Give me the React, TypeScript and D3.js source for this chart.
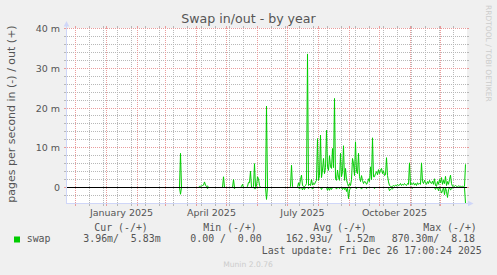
import React from "react";
import * as d3 from "d3";

// ---------- text ----------
const chartTitle = "Swap in/out - by year";
const yAxisTitle = "pages per second in (-) / out (+)";
const yMajorTicks = [0, 10, 20, 30, 40];
const yTickLabels = ["0", "10 m", "20 m", "30 m", "40 m"];
const xLabelMonths = ["2025-01-01", "2025-04-01", "2025-07-01", "2025-10-01"];
const xLabelTexts = ["January 2025", "April 2025", "July 2025", "October 2025"];
const legendHeaders = ["Cur (-/+)", "Min (-/+)", "Avg (-/+)", "Max (-/+)"];
const legendValues = ["3.96m/  5.83m", "0.00 /  0.00", "162.93u/  1.52m", "870.30m/  8.18"];
const seriesName = "swap";
const lastUpdate = "Last update: Fri Dec 26 17:00:24 2025";
const watermark = "RRDTOOL / TOBI OETIKER";
const version = "Munin 2.0.76";

// ---------- data: daily swap-out (milli pages/s), one array per month ----------
const monthStarts = [
  "2025-03-01", "2025-04-01", "2025-05-01", "2025-06-01", "2025-07-01",
  "2025-08-01", "2025-09-01", "2025-10-01", "2025-11-01", "2025-12-01",
];
const swapOutMar = [0, 0, 0, 0, 0, 0, 0, 0, 0, 0, 0, 0, 0, 0, 0, 8.6, 0, 0, 0, 0, 0, 0, 0, 0, 0, 0, 0, 0, 0, 0, 0];
const swapOutApr = [0, 0, 0, 0.3, 0.3, 0.4, 0.5, 0.6, 1.4, 0.6, 0.2, 0.4, 0, 0, 0, 0, 0, 0, 0, 0, 0, 0, 0, 0, 0, 0, 0, 2.7, 0, 0];
const swapOutMay = [0, 0, 0, 0, 0, 0, 0, 2.0, 0, 0, 0, 0, 0, 0, 0, 0.3, 0.8, 0, 0, 0, 0, 0.3, 1.3, 1.2, 4.1, 0.1, 0, 0.3, 6.0, 0.2, 0.3];
const swapOutJun = [2.7, 2.2, 0.5, 0, 0, 0, 0, 0, 0, 20.5, 0, 0, 0, 0, 0, 0, 0, 0, 0, 0, 0, 0, 0, 0, 0, 0, 0, 0, 0, 0];
const swapOutJul = [0, 0, 0, 0.3, 5.6, 0.3, 0, 0, 0, 0, 0, 1.2, 0.4, 2.0, 3.1, 0.5, 0.3, 0.2, 0.5, 1.0, 33.6, 0.5, 0.8, 0.5, 2.0, 0.6, 1.0, 0.8, 1.4, 1.8, 12.3];
const swapOutAug = [1.8, 3.0, 13.2, 2.5, 4.4, 7.3, 3.5, 5.0, 14.4, 5.2, 4.3, 8.0, 5.2, 4.8, 9.8, 5.0, 22.4, 2.2, 1.8, 4.4, 2.5, 1.8, 8.6, 2.7, 4.0, 10.5, 1.8, 4.8, 2.0, 1.0, 0.3];
const swapOutSep = [1.0, 0.5, 2.0, 7.3, 6.0, 3.0, 11.5, 4.0, 3.5, 8.6, 2.7, 1.5, 3.0, 1.8, 1.0, 1.5, 1.4, 0.8, 1.2, 2.2, 1.5, 5.2, 2.0, 12.5, 2.7, 2.7, 3.5, 4.0, 3.2, 4.5];
const swapOutOct = [3.5, 4.3, 4.8, 3.5, 4.2, 3.0, 3.2, 7.5, 3.0, 1.4, 0.5, 0.3, 0.2, 0.3, 0.5, 0.3, 0.6, 0.4, 0.8, 0.5, 0.6, 1.0, 0.5, 0.8, 0.6, 1.0, 0.7, 0.5, 1.0, 0.8, 6.2];
const swapOutNov = [0.6, 1.0, 0.8, 1.2, 0.6, 1.0, 0.5, 1.2, 0.8, 1.0, 0.8, 6.2, 1.5, 1.0, 1.8, 1.2, 0.8, 1.5, 1.0, 1.8, 1.2, 1.0, 1.6, 0.8, 2.2, 0.5, 0.3, 1.5, 0.8, 2.0];
const swapOutDec = [1.2, 2.5, 0.8, 1.8, 1.0, 2.8, 0.5, 1.5, 0.8, 2.0, 3.1, 1.0, 0.3, 0.4, 0.3, 0.5, 0.3, 0.2, 0.4, 0.3, 0.3, 0.2, 0.3, 0.2, 0.3, 5.83];

// ---------- data: swap-in (milli pages/s), days with non-zero values ----------
const swapInDays = [
  "2025-03-16", "2025-04-12", "2025-05-09", "2025-05-29", "2025-05-30", "2025-06-10",
  "2025-07-13", "2025-07-16", "2025-07-18", "2025-07-22", "2025-07-26",
  "2025-08-04", "2025-08-10", "2025-08-12", "2025-08-14", "2025-08-19", "2025-08-22",
  "2025-08-25", "2025-08-27", "2025-08-29", "2025-08-31",
  "2025-09-01", "2025-09-02", "2025-09-08", "2025-09-13", "2025-09-18", "2025-09-26",
  "2025-10-11", "2025-10-12", "2025-10-13", "2025-10-14",
  "2025-11-03", "2025-11-26", "2025-11-29",
  "2025-12-01", "2025-12-02", "2025-12-03", "2025-12-05", "2025-12-07", "2025-12-08",
  "2025-12-09", "2025-12-11", "2025-12-12", "2025-12-26",
];
const swapInValues = [
  1.7, 0.3, 0.3, 0.3, 0.3, 3.0,
  0.4, 0.6, 0.5, 0.3, 0.4,
  0.5, 0.7, 0.7, 0.5, 0.4, 0.3,
  0.5, 0.5, 1.0, 2.8,
  0.6, 0.3, 0.3, 0.4, 0.3, 0.3,
  0.8, 0.5, 0.3, 0.4,
  0.2, 0.5, 0.8,
  0.5, 1.4, 0.8, 1.8, 1.0, 2.5,
  0.5, 0.6, 0.4, 3.96,
];

const swapOutByMonth = [
  swapOutMar, swapOutApr, swapOutMay, swapOutJun, swapOutJul,
  swapOutAug, swapOutSep, swapOutOct, swapOutNov, swapOutDec,
];

const DAY = 86400000;
const parse = (s: string) => new Date(s + "T00:00:00Z");

type Pt = { date: Date; v: number };

const outSeries: Pt[] = swapOutByMonth.flatMap((vals, m) =>
  vals.map((v, i) => ({ date: new Date(parse(monthStarts[m]).getTime() + i * DAY), v }))
);
const inMap = new Map<string, number>(swapInDays.map((d, i) => [d, swapInValues[i]]));
const inSeries: Pt[] = outSeries.map((p) => ({
  date: p.date,
  v: -(inMap.get(p.date.toISOString().slice(0, 10)) ?? 0),
}));

const FONT = "DejaVu Sans, Liberation Sans, sans-serif";
const MONO = "DejaVu Sans Mono, Liberation Mono, monospace";
const TEXT = "#555555";
const GREEN = "#00CC00";
const AXIS = "#CFD6F8";
const MINOR = "#b8b8b8";
const MAJOR = "#e99c9c";

export default function App() {
  const W = 497;
  const H = 275;
  const X0 = 67;
  const X1 = 467;
  const start = new Date(Date.UTC(2024, 10, 22, 12));
  const end = new Date(start.getTime() + 400 * DAY);
  const x = d3.scaleUtc().domain([start, end]).range([X0, X1]);
  const y = d3.scaleLinear().domain([-4, 40]).range([203.4, 28.5]);
  const snap = (v: number) => Math.floor(v) + 0.5;
  const yTop = snap(y(40));
  const yBot = snap(y(-4));
  const xAxis = X0 - 0.5;
  const vTop = yTop - 0.5; // integer pixel edge so dots are crisp
  const vBot = yBot + 0.5;

  const minorY = d3.range(-2, 40, 2).filter((v) => v % 10 !== 0);
  const months = d3.utcMonth.range(start, end);
  const refSunday = parse("2025-11-30").getTime();
  const sundays = d3.utcSunday
    .range(start, end)
    .filter((d) => Math.round((refSunday - d.getTime()) / DAY) % 14 === 0);

  const line = d3
    .line<Pt>()
    .x((d) => x(d.date))
    .y((d) => y(d.v));

  return (
    <svg
      width={W}
      height={H}
      viewBox={`0 0 ${W} ${H}`}
      style={{ position: "absolute", left: 0, top: 0, display: "block" }}
    >
      <rect x={0} y={0} width={W} height={H} fill="#F0F0F0" />
      <rect x={X0 - 1} y={vTop} width={X1 - X0 + 1} height={vBot - vTop} fill="#FFFFFF" />

      {/* minor horizontal grid */}
      {minorY.map((v) => {
        const yy = snap(y(v));
        return (
          <g key={"mh" + v}>
            <line x1={X0} x2={X1} y1={yy} y2={yy} stroke={MINOR} strokeDasharray="1 1" />
            <line x1={X0 - 3} x2={X0} y1={yy} y2={yy} stroke={MINOR} />
            <line x1={X1} x2={X1 + 2} y1={yy} y2={yy} stroke={MINOR} />
          </g>
        );
      })}
      {/* minor vertical grid (every second Sunday) */}
      {sundays.map((d) => {
        const xx = snap(x(d));
        return (
          <g key={"mv" + d.getTime()}>
            <line x1={xx} x2={xx} y1={vTop} y2={vBot} stroke={MINOR} strokeDasharray="1 1" />
            <line x1={xx} x2={xx} y1={vBot} y2={vBot + 2} stroke={MINOR} />
            <line x1={xx} x2={xx} y1={vTop - 2} y2={vTop} stroke={MINOR} />
          </g>
        );
      })}
      {/* major horizontal grid */}
      {yMajorTicks.map((v) => {
        const yy = snap(y(v));
        return (
          <g key={"Mh" + v}>
            <line x1={X0} x2={X1} y1={yy} y2={yy} stroke={MAJOR} strokeDasharray="1 1" />
            <line x1={X0 - 3} x2={X0} y1={yy} y2={yy} stroke={MAJOR} />
            <line x1={X1} x2={X1 + 2} y1={yy} y2={yy} stroke={MAJOR} />
          </g>
        );
      })}
      {/* major vertical grid (months) */}
      {months.map((d) => {
        const xx = snap(x(d));
        return (
          <g key={"Mv" + d.getTime()}>
            <line x1={xx} x2={xx} y1={vTop} y2={vBot} stroke={MAJOR} strokeDasharray="1 1" />
            <line x1={xx} x2={xx} y1={vBot} y2={vBot + 2} stroke={MAJOR} />
            <line x1={xx} x2={xx} y1={vTop - 2} y2={vTop} stroke={MAJOR} />
          </g>
        );
      })}

      {/* data */}
      <path d={line(inSeries) ?? ""} fill="none" stroke={GREEN} strokeWidth={1} />
      <path d={line(outSeries) ?? ""} fill="none" stroke={GREEN} strokeWidth={1} />

      {/* zero line */}
      <line x1={xAxis} x2={X1} y1={snap(y(0))} y2={snap(y(0))} stroke="#000000" strokeWidth={1} />

      {/* axes */}
      <line x1={xAxis} x2={xAxis} y1={vBot} y2={yTop - 3} stroke={AXIS} />
      <line x1={xAxis - 0.5} x2={X1 + 1} y1={yBot} y2={yBot} stroke={AXIS} />
      <polygon
        points={`${xAxis - 2.8},${yTop - 2} ${xAxis + 2.8},${yTop - 2} ${xAxis},${yTop - 7.5}`}
        fill={AXIS}
      />
      <polygon
        points={`${X1 + 1},${yBot - 2.8} ${X1 + 1},${yBot + 2.8} ${X1 + 6.5},${yBot}`}
        fill={AXIS}
      />

      {/* y tick labels */}
      {yMajorTicks.map((v, i) => (
        <text
          key={"yl" + v}
          x={60}
          y={snap(y(v)) + 3.5}
          textAnchor="end"
          fontFamily={FONT}
          fontSize={9.5}
          fill={TEXT}
        >
          {yTickLabels[i]}
        </text>
      ))}
      {/* x labels, centred in the middle of their month */}
      {xLabelMonths.map((m, i) => (
        <text
          key={"xl" + m}
          x={x(new Date(parse(m).getTime() + 15 * DAY))}
          y={216}
          textAnchor="middle"
          fontFamily={FONT}
          fontSize={9.5}
          fill={TEXT}
        >
          {xLabelTexts[i]}
        </text>
      ))}

      {/* title */}
      <text x={248.5} y={23} textAnchor="middle" fontFamily={FONT} fontSize={12.6} fill={TEXT}>
        {chartTitle}
      </text>
      {/* y axis title */}
      <text
        transform="translate(15,114) rotate(-90)"
        textAnchor="middle"
        fontFamily={FONT}
        fontSize={11}
        fill={TEXT}
      >
        {yAxisTitle}
      </text>
      {/* watermark */}
      <text
        transform="translate(485.5,5) rotate(90)"
        textAnchor="start"
        fontFamily={FONT}
        fontSize={7.5}
        fill="#cccccc"
      >
        {watermark}
      </text>

      {/* legend */}
      <g fontFamily={MONO} fontSize={9.9} fill={TEXT} style={{ whiteSpace: "pre" }}>
        {legendHeaders.map((h, i) => (
          <text key={"lh" + i} x={[94.3, 203.3, 313.3, 423.3][i]} y={230.5} xmlSpace="preserve">
            {h}
          </text>
        ))}
        <rect x={14} y={236.5} width={6} height={6} fill={GREEN} />
        <text x={26.7} y={242.3}>{seriesName}</text>
        {legendValues.map((s, i) => (
          <text key={"lv" + i} x={[83.3, 190.3, 285.7, 391.7][i]} y={242.3} xmlSpace="preserve">
            {s}
          </text>
        ))}
        <text x={261.7} y={254} xmlSpace="preserve">
          {lastUpdate}
        </text>
      </g>
      <text x={248} y={266.5} textAnchor="middle" fontFamily={FONT} fontSize={7.6} fill="#cccccc">
        {version}
      </text>
    </svg>
  );
}
